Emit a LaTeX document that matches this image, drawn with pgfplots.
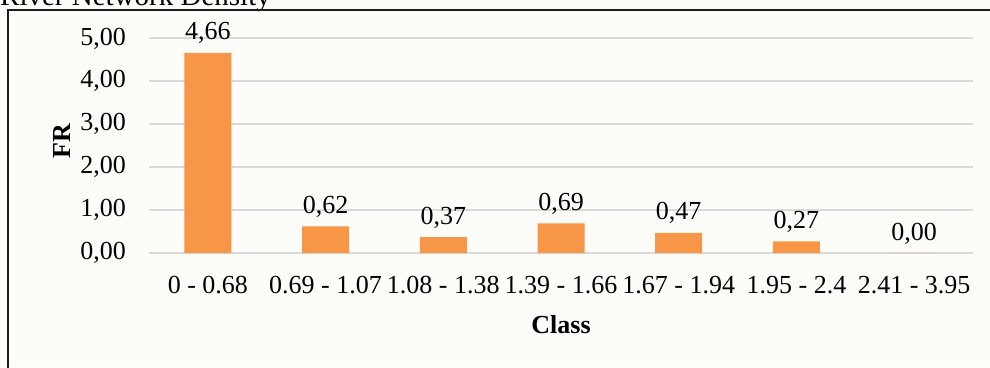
\documentclass[border=0pt]{standalone}
\usepackage{fontspec}
\setmainfont{Liberation Serif}
\usepackage{pgfplots}
\pgfplotsset{compat=1.18}

\definecolor{barorange}{RGB}{247,150,70}
\definecolor{gridgray}{RGB}{217,217,217}
\definecolor{pagebg}{RGB}{252,253,248}
\definecolor{framecol}{RGB}{30,30,30}
\newcommand\fs{\fontsize{26bp}{31bp}\selectfont}

\begin{document}
\begin{tikzpicture}[x=1bp,y=1bp]
  \path[use as bounding box] (0,0) rectangle (990,367);
  \clip (0,0) rectangle (990,367);
  \fill[pagebg] (0,0) rectangle (990,367);

  % chart title and outer frame
  \node[anchor=base west, inner sep=0pt, font=\fontsize{29bp}{34bp}\selectfont] at (0,361.5) {River Network Density};
  \draw[framecol, line width=2bp] (7.5,-20) -- (7.5,357) -- (1010,357);

  \begin{axis}[
    at={(149bp,114bp)}, anchor=south west,
    scale only axis,
    width=824bp, height=214.6bp,
    xmin=-0.5, xmax=6.5,
    ymin=0, ymax=5,
    ytick={0,1,2,3,4,5},
    xtick={0,1,2,3,4,5,6},
    xticklabels={0 - 0.68, 0.69 - 1.07, 1.08 - 1.38, 1.39 - 1.66, 1.67 - 1.94, 1.95 - 2.4, 2.41 - 3.95},
    ymajorgrids,
    grid style={draw=gridgray, line width=2bp},
    axis line style={draw=none},
    major tick length=0pt,
    tick style={draw=none},
    /pgf/number format/.cd, fixed, fixed zerofill, precision=2, use comma, assume math mode=true,
    /pgfplots/.cd,
    yticklabel style={font=\fs, anchor=east, inner sep=0pt, xshift=-23bp},
    xticklabel style={font=\fs, anchor=base, inner sep=0pt, yshift=-40bp},
    xlabel={Class},
    ylabel={FR},
    every axis x label/.style={at={(axis description cs:0.5,-0.375)}, anchor=base, font=\fs\bfseries, inner sep=0pt},
    every axis y label/.style={at={(axis description cs:-0.1056,0.52)}, anchor=center, rotate=90, font=\fs\bfseries, inner sep=0pt},
    ybar,
    bar width=47bp,
    nodes near coords={\pgfmathprintnumber[fixed,fixed zerofill,precision=2,use comma,assume math mode=true]{\pgfplotspointmeta}},
    every node near coord/.append style={font=\fs, anchor=base, inner sep=0pt, yshift=13bp, color=black},
  ]
    \addplot[fill=barorange, draw=none] coordinates {
      (0,4.66) (1,0.62) (2,0.37) (3,0.69) (4,0.47) (5,0.27) (6,0.00)
    };
  \end{axis}
\end{tikzpicture}
\end{document}
